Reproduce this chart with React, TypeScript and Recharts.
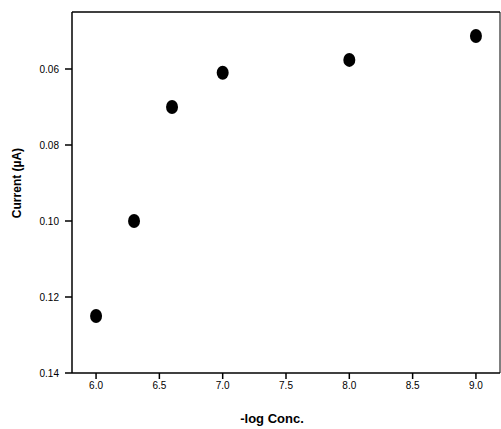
import {
	ReferenceLine,
	Scatter,
	ScatterChart,
	XAxis,
	YAxis,
} from "recharts"

const logConc = [6.0, 6.3, 6.6, 7.0, 8.0, 9.0]
const currents = [0.125, 0.1, 0.07, 0.061, 0.0576, 0.0513]
const xTicks = [6.0, 6.5, 7.0, 7.5, 8.0, 8.5, 9.0]
const yTicks = [0.06, 0.08, 0.1, 0.12, 0.14]

const X_MIN = 5.81
const X_MAX = 9.19
const Y_MIN = 0.045
const Y_MAX = 0.14

const tickFont = "'Liberation Sans Narrow', 'Arial Narrow', Arial, sans-serif"
const labelFont = "Arial, 'Liberation Sans', sans-serif"

const points = logConc.map((x, i) => ({ x, y: currents[i] }))

const renderDot = ({ cx, cy }: { cx?: number; cy?: number }) => (
	<ellipse cx={cx} cy={cy} rx={6} ry={7} fill='#000' />
)

const renderYLabel = () => (
	<text
		x={17}
		y={183}
		transform='rotate(-90, 17, 183)'
		textAnchor='middle'
		dominantBaseline='central'
		fontFamily={labelFont}
		fontWeight='bold'
		fontSize={12}
		fill='#000'
	>
		Current (µA)
	</text>
)

const renderXLabel = () => (
	<text
		x={272}
		y={423}
		textAnchor='middle'
		fontFamily={tickFont}
		fontWeight='bold'
		fontSize={13}
		fill='#000'
	>
		-log Conc.
	</text>
)

export default function App() {
	return (
		<div style={{ position: "absolute", left: 0, top: 0, background: "#fff" }}>
			<ScatterChart
				width={501}
				height={429}
				margin={{ top: 12, right: 1, bottom: 0, left: 0 }}
			>
				<XAxis
					type='number'
					dataKey='x'
					domain={[X_MIN, X_MAX]}
					ticks={xTicks}
					allowDataOverflow
					height={56}
					tickSize={6}
					tickMargin={3}
					tickFormatter={(v: number) => v.toFixed(1)}
					tick={{ fill: "#000", fontSize: 10, fontFamily: tickFont }}
					stroke='#000'
					strokeWidth={1.5}
					label={renderXLabel}
				/>
				<YAxis
					type='number'
					dataKey='y'
					domain={[Y_MIN, Y_MAX]}
					ticks={yTicks}
					reversed
					allowDataOverflow
					width={72}
					tickSize={7}
					tickMargin={6}
					tickFormatter={(v: number) => v.toFixed(2)}
					tick={{ fill: "#000", fontSize: 10, fontFamily: tickFont }}
					stroke='#000'
					strokeWidth={1.5}
					label={renderYLabel}
				/>
				<ReferenceLine y={Y_MIN} stroke='#000' strokeWidth={1.5} />
				<ReferenceLine x={X_MAX} stroke='#000' strokeWidth={1} />
				<Scatter data={points} shape={renderDot} isAnimationActive={false} />
			</ScatterChart>
		</div>
	)
}
